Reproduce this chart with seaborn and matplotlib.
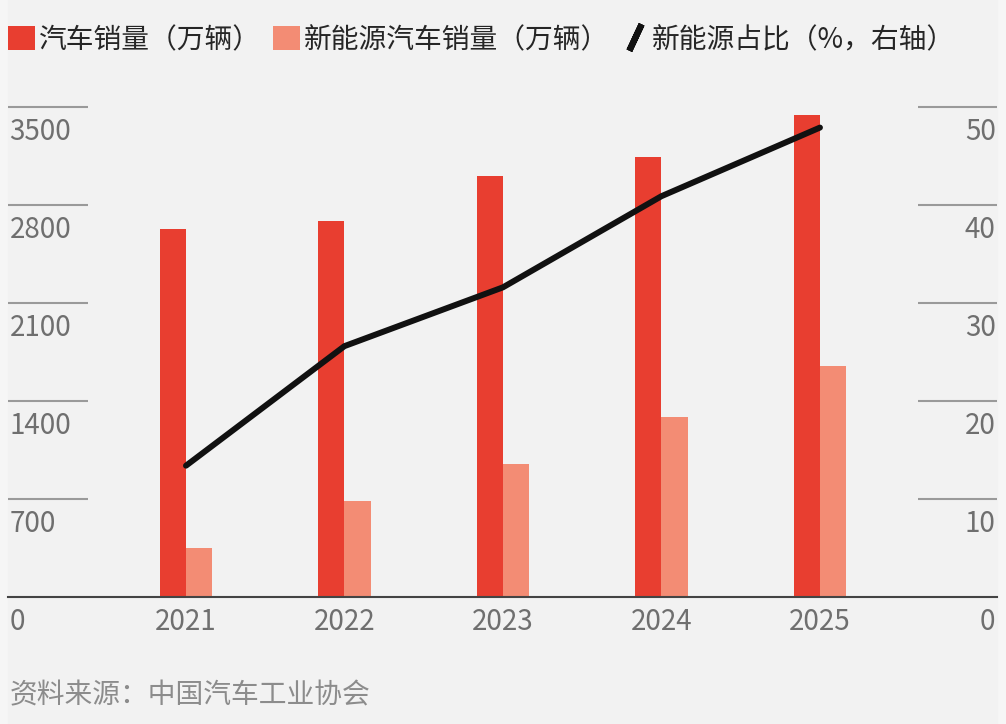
import numpy as np
import pandas as pd
import matplotlib
matplotlib.use('Agg')
import matplotlib.pyplot as plt
from matplotlib.patches import Patch, Rectangle
from matplotlib.lines import Line2D
from matplotlib.transforms import ScaledTranslation
import seaborn as sns

# данные
years = ['2021', '2022', '2023', '2024', '2025']
car_sales = [2627, 2686, 3009, 3143, 3440]       # 汽车销量（万辆）
nev_sales = [352, 689, 950, 1287, 1649]          # 新能源汽车销量（万辆）
nev_share = [13.4, 25.6, 31.6, 40.9, 47.9]       # 新能源占比（%）
left_ticks = [0, 700, 1400, 2100, 2800, 3500]
right_ticks = [0, 10, 20, 30, 40, 50]

series_names = ['汽车销量（万辆）', '新能源汽车销量（万辆）', '新能源占比（%，右轴）']
red = '#e83e30'
pink = '#f38c74'
bg = '#f2f2f2'
grey_txt = '#6f6f6f'
fs = 20

df = pd.DataFrame({
    'year': years * 2,
    'value': car_sales + nev_sales,
    'series': [series_names[0]] * len(years) + [series_names[1]] * len(years),
})

sns.set_style('white')
plt.rcParams['font.family'] = ['Noto Sans CJK SC', 'DejaVu Sans']

fig = plt.figure(figsize=(10.06, 7.24), dpi=100)
fig.patch.set_facecolor('#f6f6f6')
fig.patches.append(Rectangle((8 / 1006, 0), 989 / 1006, 1, transform=fig.transFigure,
                             color=bg, zorder=-10))
ax = fig.add_axes([8 / 1006, 1 - 597 / 724, 989 / 1006, (597 - 107) / 724])
ax.patch.set_alpha(0)

sns.barplot(data=df, x='year', y='value', hue='series', order=years,
            palette=[red, pink], width=0.33, gap=0, saturation=1,
            linewidth=0, legend=False, ax=ax)

ax.set_xlim(-1.123, 5.117)
ax.set_ylim(0, 3500)
ax.set_xlabel('')
ax.set_ylabel('')
for s in ['top', 'left', 'right']:
    ax.spines[s].set_visible(False)
ax.spines['bottom'].set_color('#444444')
ax.spines['bottom'].set_linewidth(1.5)

# смещение подписей вниз под линии сетки
shift = ScaledTranslation(0, -15.5 / 72, fig.dpi_scale_trans)

ax.set_yticks(left_ticks)
ax.set_yticklabels([str(t) for t in left_ticks])
ax.tick_params(axis='y', length=0, pad=-1, labelsize=fs, labelcolor=grey_txt)
ax.tick_params(axis='x', length=0, pad=7, labelsize=fs, labelcolor=grey_txt)
for lab in ax.get_yticklabels():
    lab.set_ha('left')
    lab.set_transform(lab.get_transform() + shift)
ax.hlines(left_ticks[1:], 0, 0.081, transform=ax.get_yaxis_transform(),
          color='#9a9a9a', lw=1.5, clip_on=False)

# правая ось
ax2 = ax.twinx()
sns.lineplot(x=np.arange(len(years)), y=nev_share, ax=ax2, color='#111111',
             lw=4.3, solid_capstyle='round', solid_joinstyle='round')
ax2.set_ylim(0, 50)
ax2.set_ylabel('')
for s in ['top', 'left', 'right', 'bottom']:
    ax2.spines[s].set_visible(False)
ax2.set_yticks(right_ticks)
ax2.set_yticklabels([str(t) for t in right_ticks])
ax2.tick_params(axis='y', length=0, pad=-1, labelsize=fs, labelcolor=grey_txt)
for lab in ax2.get_yticklabels():
    lab.set_ha('right')
    lab.set_transform(lab.get_transform() + shift)
ax2.hlines(right_ticks[1:], 0.92, 1.0, transform=ax2.get_yaxis_transform(),
           color='#9a9a9a', lw=1.5, clip_on=False)
ax.set_xlim(-1.123, 5.117)

# легенда
handles = [
    Patch(facecolor=red, edgecolor='none'),
    Patch(facecolor=pink, edgecolor='none'),
    Line2D([], [], color='#111111', marker=(2, 2, -25), linestyle='None',
           markersize=21, markeredgewidth=4.5),
]
fig.legend(handles, series_names, loc='center left', bbox_to_anchor=(0.0, 1 - 40 / 724),
           ncol=3, frameon=False, fontsize=fs, handlelength=0.95, handleheight=0.95,
           handletextpad=0.15, columnspacing=0.45, borderaxespad=0, borderpad=0.3)

fig.text(10 / 1006, 1 - 695 / 724, '资料来源：中国汽车工业协会', fontsize=fs,
         color='#8c8c8c', va='center', ha='left')

fig.savefig('out.png', dpi=100, facecolor=fig.get_facecolor())
